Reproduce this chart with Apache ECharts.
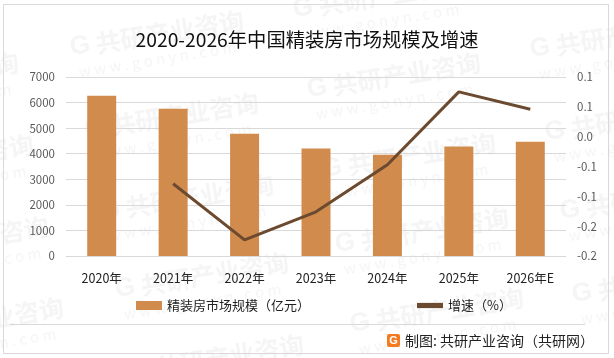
<!DOCTYPE html>
<html>
<head>
<meta charset="utf-8">
<style>html,body{margin:0;padding:0;background:#fff}#main{width:614px;height:358px}</style>
<script src="https://cdn.jsdelivr.net/npm/echarts@6/dist/echarts.min.js"></script>
</head>
<body>
<div id="main"></div>
<script>
var categories = ['2020年', '2021年', '2022年', '2023年', '2024年', '2025年', '2026年E'];
var scaleValues = [6270, 5760, 4780, 4200, 3960, 4280, 4470];
var growthValues = [null, -0.079, -0.173, -0.126, -0.047, 0.075, 0.046];
var rightTickLabels = ['-0.2', '-0.2', '-0.1', '-0.1', '0.0', '0.1', '0.1'];

var font = '"Noto Sans CJK SC", sans-serif';
var chart = echarts.init(document.getElementById('main'));

// 水印
var marks = [[-155, 90], [-140, 172], [-125, 254], [-110, 335],
    [70, 48], [85, 130], [100, 212], [115, 290], [130, 372],
    [293, 10], [307, 90], [322, 170], [335, 245], [350, 325],
    [530, 50], [545, 133], [560, 212], [572, 295]];
var watermark = [];
marks.forEach(function (m) {
    watermark.push({
        type: 'group', x: m[0], y: m[1], rotation: 0.16, silent: true, z: 0,
        children: [
            { type: 'text', style: { text: 'G', x: 0, y: 0, verticalAlign: 'middle', font: 'bold 26px "Liberation Sans"', fill: '#f5f5f5' } },
            { type: 'text', style: { text: '共研产业咨询', x: 26, y: 0, verticalAlign: 'middle', font: 'bold 25px ' + font, fill: '#f5f5f5' } },
            { type: 'text', style: { text: 'w w w . g o n y n . c o m', x: 5, y: 25, verticalAlign: 'middle', font: '15px ' + font, fill: '#f5f5f5' } }
        ]
    });
});

var option = {
    animation: false,
    backgroundColor: '#fff',
    title: {
        text: '2020-2026年中国精装房市场规模及增速',
        left: 'center',
        top: 25,
        textStyle: { fontFamily: font, fontSize: 19.3, fontWeight: 'normal', color: '#111' }
    },
    legend: {
        left: 131,
        top: 294,
        itemGap: 107,
        itemWidth: 26,
        itemHeight: 9,
        textStyle: { fontFamily: font, fontSize: 13, color: '#222' },
        data: [
            { name: '精装房市场规模（亿元）', icon: 'rect' },
            { name: '增速（%）', icon: 'path://M0,40 L100,40 L100,60 L0,60 Z' }
        ]
    },
    grid: { left: 66, right: 48, top: 77, height: 179 },
    xAxis: {
        type: 'category',
        data: categories,
        axisTick: { show: false },
        axisLine: { lineStyle: { color: '#d9d9d9' } },
        axisLabel: { margin: 16, fontFamily: font, fontSize: 12.5, color: '#222' }
    },
    yAxis: [{
        type: 'value',
        min: 0,
        max: 7000,
        interval: 1000,
        axisLabel: {
            fontFamily: font, fontSize: 11.5, color: '#595959', margin: 11,
            formatter: function (v) { return String(v); }
        },
        splitLine: { lineStyle: { color: '#d9d9d9' } }
    }, {
        type: 'value',
        min: -0.2,
        max: 0.1,
        interval: 0.05,
        splitLine: { show: false },
        axisLabel: {
            fontFamily: font, fontSize: 11.5, color: '#595959', margin: 11,
            formatter: function (v, i) { return rightTickLabels[i]; }
        }
    }],
    series: [{
        name: '精装房市场规模（亿元）',
        type: 'bar',
        data: scaleValues,
        barWidth: 29,
        itemStyle: { color: '#d18b4d' },
        z: 2
    }, {
        name: '增速（%）',
        type: 'line',
        yAxisIndex: 1,
        data: growthValues,
        symbol: 'none',
        lineStyle: { color: '#6b4a2f', width: 3 },
        itemStyle: { color: '#6b4a2f' },
        z: 3
    }],
    graphic: watermark.concat([
        { type: 'rect', silent: true, shape: { x: 3.5, y: 4.5, width: 605, height: 349 }, style: { fill: 'none', stroke: '#d9d9d9', lineWidth: 1 } },
        { type: 'line', silent: true, shape: { x1: 10, y1: 324.5, x2: 585, y2: 324.5 }, style: { stroke: '#d9d9d9', lineWidth: 1 } },
        { type: 'rect', silent: true, shape: { x: 387, y: 334, width: 13, height: 13, r: 2 }, style: { fill: '#f47b20' } },
        { type: 'text', silent: true, style: { text: 'G', x: 393.5, y: 340.5, align: 'center', verticalAlign: 'middle', font: 'bold 11px "Liberation Sans"', fill: '#fff' } },
        { type: 'text', silent: true, style: { text: '制图: 共研产业咨询（共研网）', x: 405, y: 341, verticalAlign: 'middle', font: '14px ' + font, fill: '#222' } }
    ])
};
chart.setOption(option);
</script>
</body>
</html>
